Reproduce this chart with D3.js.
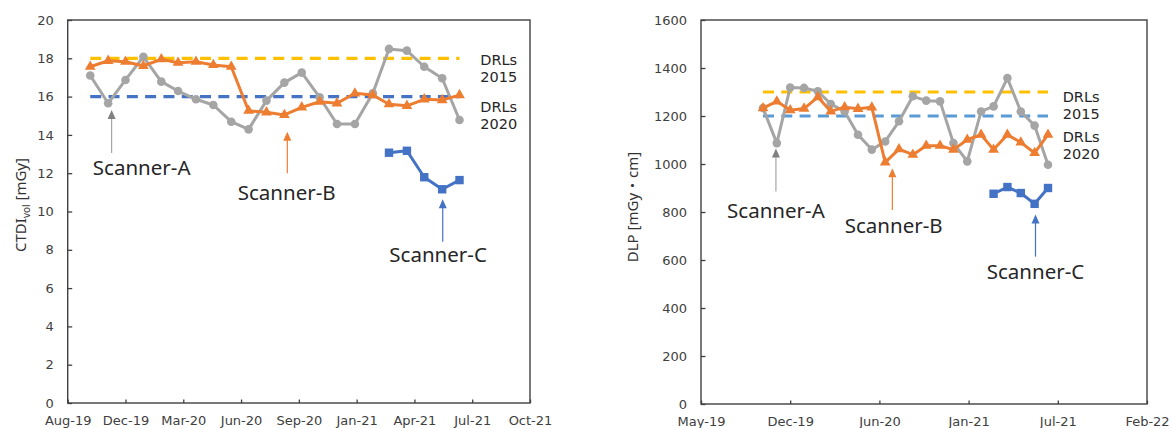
<!DOCTYPE html>
<html>
<head>
<meta charset="utf-8">
<script src="https://cdn.jsdelivr.net/npm/d3@7"></script>
<style>
    body { margin: 0; background: #fff; }
    svg { display: block; font-family: "DejaVu Sans", sans-serif; }
</style>
</head>
<body>
<svg id="chart" width="1171" height="428"></svg>
<script>
// Survey months (first of month)
const months = [
    "2019-10-01", "2019-11-01", "2019-12-01", "2020-01-01", "2020-02-01", "2020-03-01",
    "2020-04-01", "2020-05-01", "2020-06-01", "2020-07-01", "2020-08-01", "2020-09-01",
    "2020-10-01", "2020-11-01", "2020-12-01", "2021-01-01", "2021-02-01", "2021-03-01",
    "2021-04-01", "2021-05-01", "2021-06-01", "2021-07-01"
];
const monthsC = months.slice(17);

// CTDIvol [mGy]
const ctdiA = [17.1, 15.65, 16.87, 18.08, 16.78, 16.29, 15.86, 15.56, 14.69, 14.29, 15.79,
    16.73, 17.25, 15.96, 14.57, 14.57, 16.17, 18.49, 18.4, 17.56, 16.96, 14.78];
const ctdiB = [17.56, 17.87, 17.82, 17.6, 17.95, 17.77, 17.82, 17.65, 17.56, 15.26, 15.18,
    15.04, 15.44, 15.73, 15.65, 16.17, 16.08, 15.6, 15.52, 15.86, 15.82, 16.08];
const ctdiC = [13.07, 13.17, 11.79, 11.16, 11.64];
const ctdiDrl = [18, 16];

// DLP [mGy・cm]
const dlpA = [1233, 1087, 1319, 1317, 1303, 1250, 1219, 1122, 1060, 1094, 1178, 1282,
    1264, 1261, 1087, 1011, 1219, 1240, 1358, 1219, 1160, 997];
const dlpB = [1233, 1261, 1224, 1231, 1279, 1219, 1237, 1230, 1236, 1007, 1062, 1039,
    1076, 1076, 1060, 1101, 1122, 1060, 1122, 1090, 1046, 1122];
const dlpC = [876, 904, 879, 834, 900];
const dlpDrl = [1300, 1200];

// axes
const ctdiTicks = [0, 2, 4, 6, 8, 10, 12, 14, 16, 18, 20];
const dlpTicks = [0, 200, 400, 600, 800, 1000, 1200, 1400, 1600];
const ctdiDates = ["2019-08-23", "2019-12-01", "2020-03-10", "2020-06-18", "2020-09-26",
    "2021-01-04", "2021-04-14", "2021-07-23", "2021-10-31"];
const ctdiDateLabels = ["Aug-19", "Dec-19", "Mar-20", "Jun-20", "Sep-20", "Jan-21", "Apr-21", "Jul-21", "Oct-21"];
const dlpDates = ["2019-05-15", "2019-12-01", "2020-06-18", "2021-01-04", "2021-07-23", "2022-02-08"];
const dlpDateLabels = ["May-19", "Dec-19", "Jun-20", "Jan-21", "Jul-21", "Feb-22"];

// annotations: arrow date, tip value, tail value, label date, label baseline value
const scannerNames = ["Scanner-A", "Scanner-B", "Scanner-C"];
const ctdiArrowDates = ["2019-11-07", "2020-09-06", "2021-06-02"];
const ctdiArrowTip = [15.3, 14.17, 10.64];
const ctdiArrowTail = [13.05, 12.0, 8.42];
const ctdiLabelDates = ["2019-12-29", "2020-09-05", "2021-05-25"];
const ctdiLabelY = [11.9, 10.6, 7.38];
const dlpArrowDates = ["2019-10-30", "2020-07-17", "2021-06-03"];
const dlpArrowTip = [1065, 982, 790];
const dlpArrowTail = [885, 808, 614];
const dlpLabelDates = ["2019-10-30", "2020-07-20", "2021-06-03"];
const dlpLabelY = [774, 711, 520];

const drlNames = [["DRLs", "2015"], ["DRLs", "2020"]];
const ctdiDrlLabelDate = "2021-08-06";
const ctdiDrlLabelY = [17.65, 15.21];
const dlpDrlLabelDate = "2021-08-03";
const dlpDrlLabelY = [1260, 1093];

const parse = d3.timeParse("%Y-%m-%d");
const colA = "#a5a5a5", colB = "#ed7d31", colC = "#4472c4", col2015 = "#ffc000";

const svg = d3.select("#chart");

function drawPanel(p) {
    const x = d3.scaleTime()
        .domain([parse(p.tickDates[0]), parse(p.tickDates[p.tickDates.length - 1])])
        .range([p.left, p.right]);
    const y = d3.scaleLinear()
        .domain([0, p.yTicks[p.yTicks.length - 1]])
        .range([p.bottom, p.top]);

    const g = svg.append("g");

    // y axis, ticks pointing inside
    g.append("g")
        .attr("transform", `translate(${p.left},0)`)
        .call(d3.axisLeft(y).tickValues(p.yTicks).tickFormat(d3.format("d"))
            .tickSizeInner(-4.5).tickSizeOuter(0).tickPadding(14))
        .call(a => a.select(".domain").remove())
        .call(a => a.selectAll("line").attr("stroke", "#404040").attr("stroke-width", 1.3))
        .call(a => a.selectAll("text").attr("fill", "#404040").style("font-size", "13px")
            .style("font-family", "DejaVu Sans"));

    // x axis
    g.append("g")
        .attr("transform", `translate(0,${p.bottom})`)
        .call(d3.axisBottom(x).tickValues(p.tickDates.map(parse))
            .tickFormat((d, i) => p.tickLabels[i]).tickSizeInner(-3.5).tickSizeOuter(0).tickPadding(12.5))
        .call(a => a.select(".domain").remove())
        .call(a => a.selectAll("line").attr("stroke", "#404040").attr("stroke-width", 1.3))
        .call(a => a.selectAll("text").attr("fill", "#404040").style("font-size", "13px")
            .style("font-family", "DejaVu Sans"));

    // plot frame
    g.append("rect")
        .attr("x", p.left).attr("y", p.top)
        .attr("width", p.right - p.left).attr("height", p.bottom - p.top)
        .attr("fill", "none").attr("stroke", "#404040").attr("stroke-width", 1.4);

    // axis title
    const title = g.append("text")
        .attr("transform", `translate(${p.titleX},${p.titleY}) rotate(-90)`)
        .attr("text-anchor", "middle")
        .attr("fill", "#333")
        .style("font-family", "'Noto Sans', 'Noto Sans CJK JP', sans-serif")
        .style("font-size", "15px");
    p.title(title);

    const dates = months.map(parse);
    const first = dates[0], last = dates[dates.length - 1];

    // DRL dashed lines
    p.drl.forEach((v, i) => {
        g.append("line")
            .attr("x1", x(first)).attr("x2", x(last))
            .attr("y1", y(v)).attr("y2", y(v))
            .attr("stroke", p.drlColors[i]).attr("stroke-width", 3.2)
            .attr("stroke-dasharray", "11,7.3");
    });

    const line = d3.line().x(d => x(d[0])).y(d => y(d[1]));

    // series A (circles)
    const dataA = dates.map((d, i) => [d, p.a[i]]);
    g.append("path").datum(dataA).attr("d", line)
        .attr("fill", "none").attr("stroke", colA).attr("stroke-width", 3).attr("stroke-linejoin", "round");
    g.selectAll(null).data(dataA).enter().append("circle")
        .attr("cx", d => x(d[0])).attr("cy", d => y(d[1])).attr("r", 4.3).attr("fill", colA);

    // series B (triangles)
    const dataB = dates.map((d, i) => [d, p.b[i]]);
    g.append("path").datum(dataB).attr("d", line)
        .attr("fill", "none").attr("stroke", colB).attr("stroke-width", 3).attr("stroke-linejoin", "round");
    g.selectAll(null).data(dataB).enter().append("path")
        .attr("transform", d => `translate(${x(d[0])},${y(d[1])})`)
        .attr("d", d3.symbol(d3.symbolTriangle, 50))
        .attr("fill", colB);

    // series C (squares)
    const dataC = monthsC.map((d, i) => [parse(d), p.c[i]]);
    g.append("path").datum(dataC).attr("d", line)
        .attr("fill", "none").attr("stroke", colC).attr("stroke-width", 3).attr("stroke-linejoin", "round");
    g.selectAll(null).data(dataC).enter().append("rect")
        .attr("x", d => x(d[0]) - 4.2).attr("y", d => y(d[1]) - 4.2)
        .attr("width", 8.4).attr("height", 8.4).attr("fill", colC);

    // scanner arrows and labels
    const arrowCols = [colA, colB, colC];
    scannerNames.forEach((name, i) => {
        const ax = x(parse(p.arrowDates[i]));
        const tip = y(p.arrowTip[i]);
        g.append("line")
            .attr("x1", ax).attr("x2", ax)
            .attr("y1", tip + 6).attr("y2", y(p.arrowTail[i]))
            .attr("stroke", arrowCols[i]).attr("stroke-width", 1.2);
        g.append("path")
            .attr("d", `M${ax},${tip}L${ax - 4},${tip + 9}L${ax + 4},${tip + 9}Z`)
            .attr("fill", i === 0 ? "#808080" : arrowCols[i]);
        g.append("text")
            .attr("x", x(parse(p.labelDates[i])))
            .attr("y", y(p.labelY[i]))
            .attr("text-anchor", "middle")
            .attr("fill", "#262626")
            .style("font-family", "'Noto Sans', sans-serif")
            .style("font-size", "20.5px")
            .text(name);
    });

    // DRL labels (two lines in one text)
    drlNames.forEach((lines, i) => {
        const lx = x(parse(p.drlLabelDate));
        const t = g.append("text")
            .attr("x", lx)
            .attr("y", y(p.drlLabelY[i]))
            .attr("fill", "#262626")
            .style("font-family", "'DejaVu Sans', sans-serif")
            .style("font-size", "14.5px");
        lines.forEach((s, j) => {
            t.append("tspan").attr("x", lx).attr("dy", j === 0 ? 0 : 17).text(s);
        });
    });
}

drawPanel({
    left: 67.7, right: 530, top: 20, bottom: 403,
    yTicks: ctdiTicks, tickDates: ctdiDates, tickLabels: ctdiDateLabels,
    a: ctdiA, b: ctdiB, c: ctdiC, drl: ctdiDrl, drlColors: [col2015, "#4472c4"],
    arrowDates: ctdiArrowDates, arrowTip: ctdiArrowTip, arrowTail: ctdiArrowTail,
    labelDates: ctdiLabelDates, labelY: ctdiLabelY,
    drlLabelDate: ctdiDrlLabelDate, drlLabelY: ctdiDrlLabelY,
    titleX: 26, titleY: 205,
    title: t => {
        t.append("tspan").text("CTDI");
        t.append("tspan").attr("dy", 4).style("font-size", "10px").text("vol");
        t.append("tspan").attr("dy", -4).text(" [mGy]");
    }
});

drawPanel({
    left: 701, right: 1147, top: 20, bottom: 404,
    yTicks: dlpTicks, tickDates: dlpDates, tickLabels: dlpDateLabels,
    a: dlpA, b: dlpB, c: dlpC, drl: dlpDrl, drlColors: [col2015, "#5b9bd5"],
    arrowDates: dlpArrowDates, arrowTip: dlpArrowTip, arrowTail: dlpArrowTail,
    labelDates: dlpLabelDates, labelY: dlpLabelY,
    drlLabelDate: dlpDrlLabelDate, drlLabelY: dlpDrlLabelY,
    titleX: 638, titleY: 207,
    title: t => t.text("DLP [mGy・cm]")
});
</script>
</body>
</html>
